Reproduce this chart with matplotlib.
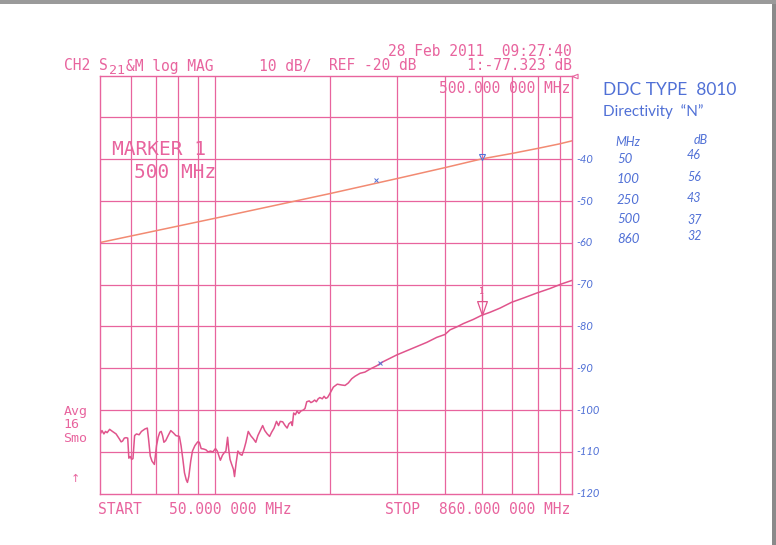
import matplotlib
matplotlib.use("Agg")
import matplotlib.pyplot as plt
from matplotlib.path import Path
from matplotlib.patches import Rectangle
from matplotlib.ticker import NullLocator

W, H = 776, 545

PINK = "#e8649e"
TRACE = "#e0548c"
ORANGE = "#f28a72"
BLUE = "#5070d6"
MONO = "DejaVu Sans Mono"
HAND = "Lato"

# grid of the analyser screen (log frequency, 10 dB/div, REF -20 dB)
grid_f = [60, 70, 80, 90, 100, 200, 300, 400, 500, 600, 700, 800]
grid_db = [-30, -40, -50, -60, -70, -80, -90, -100, -110]

# upper (orange) trace
upper_f = [50, 100, 200, 300, 400, 500, 600, 700, 800, 860]
upper_db = [-59.9, -54.1, -48.2, -44.6, -42.0, -39.9, -38.6, -37.4, -36.3, -35.6]

# lower (pink) trace
lower_f = [
    50.0, 50.5, 51.1, 51.6, 52.1, 52.9, 53.8, 55.0, 56.1, 56.7,
    57.2, 57.8, 58.4, 59.0, 59.4, 59.9, 60.4, 60.9, 61.5, 62.2,
    63.2, 64.1, 65.5, 66.4, 66.9, 67.6, 68.3, 69.3, 70.2, 70.9,
    71.6, 72.2, 72.8, 73.4, 74.2, 75.3, 76.5, 77.8, 78.9, 80.6,
    81.4, 82.3, 83.1, 84.0, 84.6, 85.3, 86.3, 87.2, 88.5, 90.0,
    90.9, 91.9, 93.2, 94.6, 95.8, 97.2, 98.6, 100.2, 101.3, 102.3,
    103.2, 104.5, 105.6, 106.7, 107.8, 108.5, 109.4, 110.5, 111.7, 112.4,
    113.5, 114.7, 116.4, 117.6, 119.1, 120.4, 122.1, 123.9, 126.0, 127.8,
    129.4, 131.3, 133.2, 134.9, 136.9, 138.9, 140.6, 142.7, 144.8, 146.6,
    148.1, 150.3, 152.5, 154.4, 156.0, 158.3, 159.3, 160.6, 162.3, 164.0,
    165.7, 167.8, 170.2, 172.0, 173.8, 176.4, 178.2, 180.1, 182.3, 184.2,
    186.2, 188.1, 190.9, 193.0, 195.0, 197.0, 199.1,
    204.1, 209.0, 214.7, 219.0, 223.4, 228.0, 232.6, 239.7, 247.0, 254.5,
    265.1, 275.9, 287.3, 299.2, 317.8, 337.6, 358.6, 380.9, 400.4, 412.7,
    429.8, 447.3, 475.1, 500.0, 525.3, 558.0, 598.7, 642.2, 696.3, 754.9,
    809.8, 860.0,
]
lower_db = [
    -105.7, -104.9, -105.7, -105.1, -105.4, -104.6, -105.1, -105.7, -106.9, -107.6,
    -107.4, -106.7, -106.6, -106.7, -111.5, -111.1, -111.8, -111.6, -106.1, -105.7,
    -105.9, -105.1, -104.5, -104.3, -106.9, -111.0, -112.2, -113.0, -108.5, -106.5,
    -105.3, -105.1, -106.1, -107.7, -107.3, -106.1, -104.9, -105.5, -106.1, -106.3,
    -108.5, -111.8, -115.0, -116.7, -117.3, -115.9, -112.2, -109.8, -108.5, -107.6,
    -107.7, -109.2, -109.3, -109.5, -110.0, -109.8, -110.0, -109.2, -109.8, -111.0,
    -112.0, -110.8, -110.2, -109.8, -106.5, -109.3, -111.8, -113.0, -114.2, -115.9,
    -112.6, -109.8, -110.6, -110.8, -109.3, -107.7, -105.1, -106.1, -106.9, -107.7,
    -106.1, -104.9, -103.7, -104.9, -105.7, -106.3, -105.3, -104.3, -102.7, -103.7,
    -102.7, -102.8, -103.7, -104.3, -103.3, -102.8, -103.7, -100.7, -101.1, -100.2,
    -100.8, -100.2, -100.0, -99.6, -98.0, -97.8, -98.2, -98.0, -97.6, -98.0,
    -97.3, -97.0, -97.3, -96.7, -97.2, -97.0, -96.3,
    -94.5, -93.8, -94.0, -94.1, -93.5, -92.5, -91.9, -91.2, -90.9, -90.2,
    -89.4, -88.4, -87.6, -86.8, -85.8, -84.8, -83.8, -82.6, -81.9, -80.8,
    -80.1, -79.3, -78.3, -77.3, -76.6, -75.6, -74.2, -73.2, -72.0, -70.9,
    -69.8, -69.0,
]

marker_f = 500.0
marker_db = -77.3
hand_x_f = [264.0, 270.4]
hand_x_db = [-45.0, -88.8]

# hand-written scale on the right
right_db = [-40, -50, -60, -70, -80, -90, -100, -110, -120]

# hand-written directivity table
table_mhz = ["50", "100", "250", "500", "860"]
table_db = ["46", "56", "43", "37", "32"]


def px(x, y):
    return x / W, 1 - y / H


fig = plt.figure(figsize=(W / 100, H / 100), dpi=100)
ax = fig.add_axes([100.3 / W, 1 - 493.7 / H, 471.4 / W, 418 / H])
ax.set_xscale("log")
ax.set_xlim(50, 860)
ax.set_ylim(-120, -20)
ax.set_xticks(grid_f)
ax.set_yticks(grid_db)
ax.xaxis.set_minor_locator(NullLocator())
ax.tick_params(which="both", length=0, labelbottom=False, labelleft=False)
ax.grid(True, color=PINK, lw=0.9)
for s in ax.spines.values():
    s.set_color(PINK)
    s.set_linewidth(1.0)

ax.plot(upper_f, upper_db, color=ORANGE, lw=1.1)
ax.plot(lower_f, lower_db, color=TRACE, lw=1.1)

# marker 1: outlined arrow pointing down onto the lower trace
arrow = Path([(0, 0), (-0.35, 1.0), (0.35, 1.0), (0, 0), (0, 1.0), (0, 1.5)],
             [Path.MOVETO, Path.LINETO, Path.LINETO, Path.LINETO,
              Path.MOVETO, Path.LINETO])
ax.plot([marker_f], [marker_db], marker=arrow, ms=30, mfc="none",
        mec=TRACE, mew=0.9, ls="none")
ax.annotate("1", (marker_f, marker_db), xytext=(0, 17), textcoords="offset points",
            ha="center", va="center", fontsize=6, color=TRACE, family=MONO)

# reference position indicator
ref_tri = Path([(0, 0), (1, 0.4), (1, -0.4), (0, 0)],
               [Path.MOVETO, Path.LINETO, Path.LINETO, Path.LINETO])
ax.plot([860], [-20], marker=ref_tri, ms=8, mfc="none", mec=PINK, mew=0.8,
        ls="none", clip_on=False)

# hand-drawn blue marks
ax.plot([marker_f], [upper_db[upper_f.index(500)] + 0.4], marker="v", ms=5,
        mfc="none", mec=BLUE, mew=0.8, ls="none")
ax.plot(hand_x_f, hand_x_db, marker="x", ms=3, mec=BLUE, mew=0.7, ls="none")

ytr = ax.get_yaxis_transform()
for v in right_db:
    ax.text(1.01, v, f"-{abs(v)}", transform=ytr, ha="left", va="center",
            fontsize=8, color=BLUE, family=HAND, style="italic", clip_on=False)

# instrument annotations
txt = dict(color=PINK, family=MONO, fontsize=10.5, va="baseline")
fig.text(*px(571.7, 55.8), "28 Feb 2011  09:27:40", ha="right", **txt)
fig.text(*px(63.8, 70.5), "CH2 S", ha="left", **txt)
fig.text(*px(108.5, 74.0), "21", ha="left", color=PINK, family=MONO,
         fontsize=9.5, va="baseline")
fig.text(*px(126.5, 70.5), "&M log MAG", ha="left", **txt)
fig.text(*px(259.0, 70.5), "10 dB/", ha="left", **txt)
fig.text(*px(329.0, 70.5), "REF -20 dB", ha="left", **txt)
fig.text(*px(571.7, 70.5), "1:-77.323 dB", ha="right", **txt)
fig.text(*px(570.0, 93.0), "500.000 000 MHz", ha="right", **txt)

big = dict(color=PINK, family=MONO, fontsize=14, va="baseline", ha="left")
fig.text(*px(111.7, 155.0), "MARKER 1", **big)
fig.text(*px(134.3, 178.3), "500 MHz", **big)

side = dict(color=PINK, family=MONO, fontsize=9.5, va="baseline", ha="left")
fig.text(*px(63.3, 415.0), "Avg", **side)
fig.text(*px(63.3, 428.5), "16", **side)
fig.text(*px(63.3, 442.0), "Smo", **side)
fig.text(*px(75.0, 479.0), "\u2191", ha="center", color=PINK, fontsize=8,
         va="center")

fig.text(*px(98.2, 514.3), "START", ha="left", **txt)
fig.text(*px(168.8, 514.3), "50.000 000 MHz", ha="left", **txt)
fig.text(*px(385.0, 514.3), "STOP", ha="left", **txt)
fig.text(*px(570.0, 514.3), "860.000 000 MHz", ha="right", **txt)

# hand-written notes
hand = dict(color=BLUE, family=HAND, va="baseline", ha="left")
fig.text(*px(603, 95), "DDC TYPE  8010", fontsize=12.5, **hand)
fig.text(*px(603, 116), "Directivity  \u201cN\u201d", fontsize=11, **hand)
fig.text(*px(615, 146), "MHz", fontsize=9, style="italic", **hand)
fig.text(*px(694, 144), "dB", fontsize=9, style="italic", **hand)
row_y = [162.7, 182.7, 204.3, 222.7, 242.7]
num_y = [159.3, 180.7, 201.7, 224.0, 240.0]
for m, d, ym, yd in zip(table_mhz, table_db, row_y, num_y):
    fig.text(*px(617, ym), m, fontsize=9.5, style="italic", **hand)
    fig.text(*px(687, yd), d, fontsize=9, style="italic", **hand)

# scanner edge
fig.add_artist(Rectangle((771.7 / W, 0), 1, 1, transform=fig.transFigure,
                         color="#8a8a8a", lw=0))
fig.add_artist(Rectangle((0, 1 - 4 / H), 1, 4 / H, transform=fig.transFigure,
                         color="#9a9a9a", lw=0))

fig.savefig("out.png", dpi=100)
